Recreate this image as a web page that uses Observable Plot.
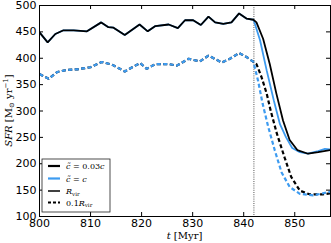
<!DOCTYPE html>
<html><head><meta charset="utf-8">
<script src="https://cdn.jsdelivr.net/npm/d3@7"></script>
<script src="https://cdn.jsdelivr.net/npm/@observablehq/plot@0.6"></script>
<style>body{margin:0;background:#fff}</style>
</head><body><div id="chart"></div>
<script>
// plateau (shared by both c~ runs)
const tSolidPre = [800, 801.6, 803.1, 804.7, 806.7, 809.3, 812.1, 813.5, 814.5, 816.7, 819.6, 821.2, 822.7, 825.3, 827.1, 828.5, 830.1, 831.6, 833.1, 834.4, 836.0, 837.6, 839.1, 840.6, 841.9];
const vSolidPre = [449, 430, 446, 453, 453, 451, 468, 459, 458, 444, 464, 451, 461, 464, 457, 472, 472, 463, 479, 468, 465, 468, 485, 475, 473];
const tDashPre = [800, 801.8, 803.5, 805.4, 807.4, 810, 812.2, 814.2, 816.7, 819.7, 821, 822.7, 825.3, 826.9, 829.2, 831.4, 833.1, 835.7, 837.3, 839.1, 840.6, 841.9];
const vDashPre = [370, 361, 374, 378, 379, 383, 393, 388, 375, 391, 380, 389, 389, 386, 399, 394, 405, 392, 399, 410, 402, 393];
// after the switch at 842 Myr
const tBlackSolid = [842.5, 843.8, 845.1, 846.4, 847.7, 849.0, 850.5, 852.6, 854.6, 857];
const vBlackSolid = [468, 437, 389, 333, 282, 245, 226, 219, 222, 226];
const tBlueSolid = [842.2, 843.2, 844.5, 845.9, 847.1, 848.3, 849.5, 851, 852.6, 854.6, 855.9, 857];
const vBlueSolid = [465, 434, 377, 320, 275, 250, 230, 222, 219, 224, 228, 227];
const tBlackDash = [842.5, 843.5, 844.5, 845.3, 846.5, 848, 849.3, 851, 852.9, 855.5, 857];
const vBlackDash = [389, 364, 333, 300, 257, 212, 175, 149, 142, 142, 144];
const tBlueDash = [842.8, 843.7, 844.8, 846.1, 847.4, 849, 851, 853.6, 856.5, 857];
const vBlueDash = [358, 314, 270, 225, 184, 156, 143, 140, 146, 147];
const xTicks = [800, 810, 820, 830, 840, 850];
const yTicks = [100, 150, 200, 250, 300, 350, 400, 450, 500];
const tSwitch = 842;

const mk = (ts, vs) => ts.map((t, i) => ({t, v: vs[i]}));
const blackSolid = mk(tSolidPre.concat(tBlackSolid), vSolidPre.concat(vBlackSolid));
const blueSolid = mk(tSolidPre.concat(tBlueSolid), vSolidPre.concat(vBlueSolid));
const blackDash = mk(tDashPre.concat(tBlackDash), vDashPre.concat(vBlackDash));
const blueDash = mk(tDashPre.concat(tBlueDash), vDashPre.concat(vBlueDash));

const W = 331, H = 243, mL = 39, mR = 1, mT = 5, mB = 27;
const ih = H - mT - mB, iw = W - mL - mR;
const blue = "#3d9bf0";
const dash = "4,2.5";
const lineOpts = {x: "t", y: "v", clip: true, strokeLinecap: "butt", strokeLinejoin: "miter"};

const plot = Plot.plot({
  width: W, height: H,
  marginLeft: mL, marginRight: mR, marginTop: mT, marginBottom: mB,
  style: {fontFamily: "DejaVu Sans", fontSize: "11px", color: "black", background: "white"},
  x: {domain: [800, 857], ticks: xTicks, tickSize: 0, tickPadding: 3, label: null},
  y: {domain: [100, 500], ticks: yTicks, tickSize: 0, tickPadding: 3, label: null},
  marks: [
    Plot.ruleX([tSwitch], {stroke: "#555", strokeWidth: 1, strokeDasharray: "1,1.2"}),
    Plot.line(blackDash, {...lineOpts, stroke: "black", strokeWidth: 2.2, strokeDasharray: dash}),
    Plot.line(blueDash, {...lineOpts, stroke: blue, strokeWidth: 2.2, strokeDasharray: dash}),
    Plot.line(blueSolid, {...lineOpts, stroke: blue, strokeWidth: 1.8}),
    Plot.line(blackSolid, {...lineOpts, stroke: "black", strokeWidth: 1.8}),
    Plot.tickX(xTicks, {x: d => d, stroke: "black", insetTop: ih - 4}),
    Plot.tickX(xTicks, {x: d => d, stroke: "black", insetBottom: ih - 4}),
    Plot.tickY(yTicks, {y: d => d, stroke: "black", insetRight: iw - 4}),
    Plot.tickY(yTicks, {y: d => d, stroke: "black", insetLeft: iw - 4}),
    Plot.frame({stroke: "black", strokeWidth: 1})
  ]
});
document.getElementById("chart").appendChild(plot);

const svg = d3.select(plot);
const serif = "DejaVu Serif";
// axis labels
const yl = svg.append("text").attr("transform", `translate(12,${mT + ih / 2}) rotate(-90)`)
  .attr("text-anchor", "middle").attr("font-family", serif).attr("font-size", 10);
yl.append("tspan").attr("font-style", "italic").text("SFR");
yl.append("tspan").text(" [M");
yl.append("tspan").attr("font-size", 7).attr("dy", 2).text("⊙");
yl.append("tspan").attr("dy", -2).text(" yr");
yl.append("tspan").attr("font-size", 7).attr("dy", -4).text("−1");
yl.append("tspan").attr("dy", 4).text("]");

const xl = svg.append("text").attr("x", mL + iw / 2).attr("y", 239)
  .attr("text-anchor", "middle").attr("font-family", serif).attr("font-size", 10);
xl.append("tspan").attr("font-style", "italic").text("t");
xl.append("tspan").text(" [Myr]");

// legend
const lg = svg.append("g").attr("transform", "translate(42,159)");
lg.append("rect").attr("width", 68).attr("height", 53).attr("fill", "white").attr("stroke", "#222").attr("stroke-width", 0.8);
const entries = [
  {y: 7, stroke: "black", w: 2.2, d: null, label: [["c\u0303", true], [" = 0.03", false], ["c", true]]},
  {y: 19.5, stroke: blue, w: 2.2, d: null, label: [["c\u0303", true], [" = ", false], ["c", true]]},
  {y: 32, stroke: "black", w: 1.5, d: null, label: [["R", true], ["vir", "sub"]]},
  {y: 43.5, stroke: "black", w: 1.8, d: "3,2", label: [["0.1", false], ["R", true], ["vir", "sub"]]}
];
for (const e of entries) {
  const ln = lg.append("line").attr("x1", 6).attr("x2", 18).attr("y1", e.y).attr("y2", e.y)
    .attr("stroke", e.stroke).attr("stroke-width", e.w);
  if (e.d) ln.attr("stroke-dasharray", e.d);
  const tx = lg.append("text").attr("x", 24).attr("y", e.y + 3).attr("text-anchor", "start")
    .attr("font-family", serif).attr("font-size", 8);
  for (const [s, k] of e.label) {
    const sp = tx.append("tspan").text(s);
    if (k === true) sp.attr("font-style", "italic");
    if (k === "sub") sp.attr("font-size", 5.5).attr("dy", 1.5);
  }
}
</script></body></html>
